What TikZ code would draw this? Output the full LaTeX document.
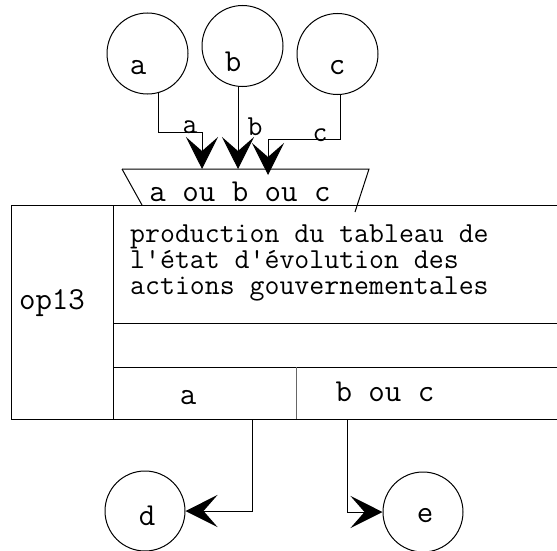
\documentclass[tikz,border=0pt]{standalone}
\usepackage{fontspec}
\usetikzlibrary{arrows.meta}
\begin{document}
\begin{tikzpicture}[x=1pt,y=-1pt,
  line/.style={line width=1pt},
  arr/.style={line width=1pt,-{Stealth[length=32pt,width=32pt,inset=14pt]}},
  circ/.style={circle,draw,line width=1pt,minimum size=81pt,inner sep=0pt},
  big/.style={font=\ttfamily\fontsize{32}{32}\selectfont,inner sep=0pt},
  small/.style={font=\ttfamily\fontsize{29}{26}\selectfont,inner sep=0pt}]
\useasboundingbox (0,0) rectangle (557,551);
% circles
\node[circ] (ca) at (147.5,53.5) {};
\node[circ] (cb) at (242.5,46) {};
\node[circ] (cc) at (337.5,54) {};
\node[circ,minimum size=80pt] (cd) at (145,511) {};
\node[circ,minimum size=80pt] (ce) at (423,512) {};
\node[big] (la) at (138,68) {a};
\node[big] (lb) at (233,62) {b};
\node[big] (lc) at (337,68) {c};
\node[big] (ld) at (147,516) {d};
\node[big] (le) at (425,516) {e};
% trapezoid
\coordinate (t1) at (122,169);
\coordinate (t2) at (369,169);
\coordinate (t3) at (355,212);
\coordinate (t4) at (142,205);
\draw[line] (t1) -- (t2) -- (t3);
\draw[line] (t1) -- (t4);
\node[big] (tt) at (240,192) {a ou b ou c};
% main box
\coordinate (b1) at (11,205);
\coordinate (b2) at (557,205);
\coordinate (b3) at (557,419);
\coordinate (b4) at (11,419);
\coordinate (i1) at (113,205);
\coordinate (i2) at (113,419);
\coordinate (h1) at (113,323);
\coordinate (h1e) at (557,323);
\coordinate (h2) at (113,367);
\coordinate (h2e) at (557,367);
\coordinate (s1) at (296,367);
\coordinate (s2) at (296,419);
\draw[line] (b2) -- (b1) -- (b4) -- (b3);
\draw[line] (i1) -- (i2);
\draw[line] (h1) -- (h1e);
\draw[line] (h2) -- (h2e);
\draw[line,black!60] (s1) -- (s2);
\node[big] (op) at (52,303) {op13};
\node[small,anchor=north west,align=left] (pt) at (130,224.3)
  {production du tableau de\\l'état d'évolution des\\actions gouvernementales};
\node[big] (oa) at (188,398) {a};
\node[big] (obc) at (385,392) {b ou c};
% input connectors
\coordinate (ka) at (202,132);
\coordinate (ta) at (202,169);
\draw[arr] (ca.-75) |- (ka) -- (ta);
\node[small] (ea) at (190,127) {a};
\coordinate (tb) at (238,169);
\draw[arr] (tb |- cb.south) -- (tb);
\node[small] (eb) at (255,127) {b};
\coordinate (kc) at (268,139);
\coordinate (tc) at (268,175);
\draw[arr] (cc.-86) |- (kc) -- (tc);
\node[small] (ec) at (320,135) {c};
% output connectors
\coordinate (od) at (252,419);
\coordinate (oe) at (347,419);
\draw[arr] (od) |- (cd.east);
\draw[arr] (oe) |- (ce.west);
\end{tikzpicture}
\end{document}
